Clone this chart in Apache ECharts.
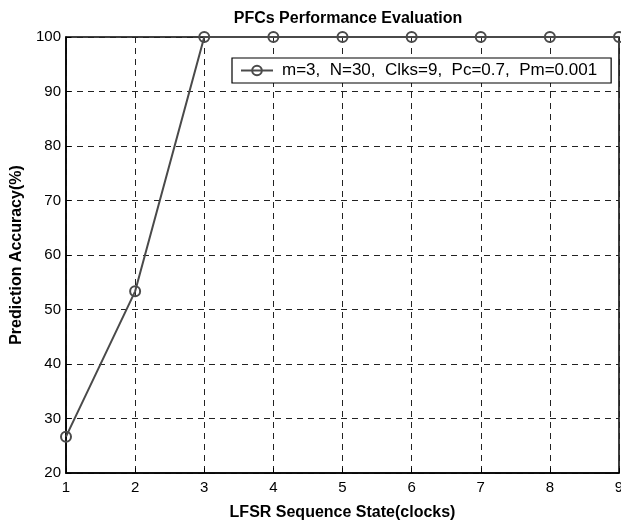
<!DOCTYPE html>
<html>
<head>
<meta charset="utf-8">
<script src="https://cdn.jsdelivr.net/npm/echarts@6/dist/echarts.min.js"></script>
<style>
  html, body { margin: 0; padding: 0; background: #fff; }
  #chart { width: 621px; height: 524px; }
</style>
</head>
<body>
<div id="chart"></div>
<script>
// LFSR sequence state (clocks) and prediction accuracy (%)
const states = [1, 2, 3, 4, 5, 6, 7, 8, 9];
const accuracy = [26.67, 53.33, 100, 100, 100, 100, 100, 100, 100];
const seriesName = 'm=3,  N=30,  Clks=9,  Pc=0.7,  Pm=0.001';
const yTicks = [20, 30, 40, 50, 60, 70, 80, 90, 100];

const font = 'Liberation Sans, Arial, Helvetica, sans-serif';
const lineColor = '#4a4a4a';

const chart = echarts.init(document.getElementById('chart'));
chart.setOption({
  animation: false,
  backgroundColor: '#fff',
  title: {
    text: 'PFCs Performance Evaluation',
    left: 343,
    top: 6,
    textAlign: 'center',
    textStyle: { fontFamily: font, fontSize: 16, fontWeight: 'bold', color: '#000' }
  },
  grid: {
    left: 66, right: 2, top: 37, bottom: 51,
    outerBoundsMode: 'none',
    containLabel: false,
    show: true, borderColor: '#000', borderWidth: 1.5, backgroundColor: 'transparent'
  },
  legend: {
    left: 232, top: 58,
    padding: [4, 14, 4, 8],
    borderColor: '#000', borderWidth: 1.2,
    backgroundColor: '#fff',
    itemWidth: 32, itemHeight: 12, itemGap: 10,
    textStyle: { fontFamily: font, fontSize: 17, color: '#000', padding: [0, 0, 0, 4] },
    data: [seriesName]
  },
  xAxis: {
    type: 'value', min: 1, max: 9, interval: 1,
    name: 'LFSR Sequence State(clocks)',
    nameLocation: 'middle', nameGap: 32,
    nameTextStyle: { fontFamily: font, fontSize: 16, fontWeight: 'bold', color: '#000' },
    axisLine: { show: true, lineStyle: { color: '#000', width: 1.5 } },
    axisTick: { show: true, inside: true, length: 5, lineStyle: { color: '#000' } },
    axisLabel: { fontFamily: font, fontSize: 15, color: '#000', margin: 7, showMaxLabel: true },
    splitLine: { show: true, lineStyle: { color: '#222', type: [6, 5], width: 1 } }
  },
  yAxis: {
    type: 'value', min: 20, max: 100, interval: 10,
    name: 'Prediction Accuracy(%)',
    nameLocation: 'middle', nameGap: 40,
    nameTextStyle: { fontFamily: font, fontSize: 16, fontWeight: 'bold', color: '#000' },
    axisLine: { show: true, lineStyle: { color: '#000', width: 1.5 } },
    axisTick: { show: true, inside: true, length: 5, lineStyle: { color: '#000' } },
    axisLabel: {
      fontFamily: font, fontSize: 15, color: '#000', margin: 5,
      formatter: v => (yTicks.includes(v) ? String(v) : '')
    },
    splitLine: { show: true, lineStyle: { color: '#222', type: [6, 5], width: 1 } }
  },
  series: [{
    name: seriesName,
    type: 'line',
    data: states.map((s, i) => [s, accuracy[i]]),
    clip: false,
    symbol: 'circle',
    symbolSize: 10,
    lineStyle: { color: lineColor, width: 2 },
    itemStyle: { color: 'transparent', borderColor: lineColor, borderWidth: 2 },
    z: 5
  }]
});
</script>
</body>
</html>
